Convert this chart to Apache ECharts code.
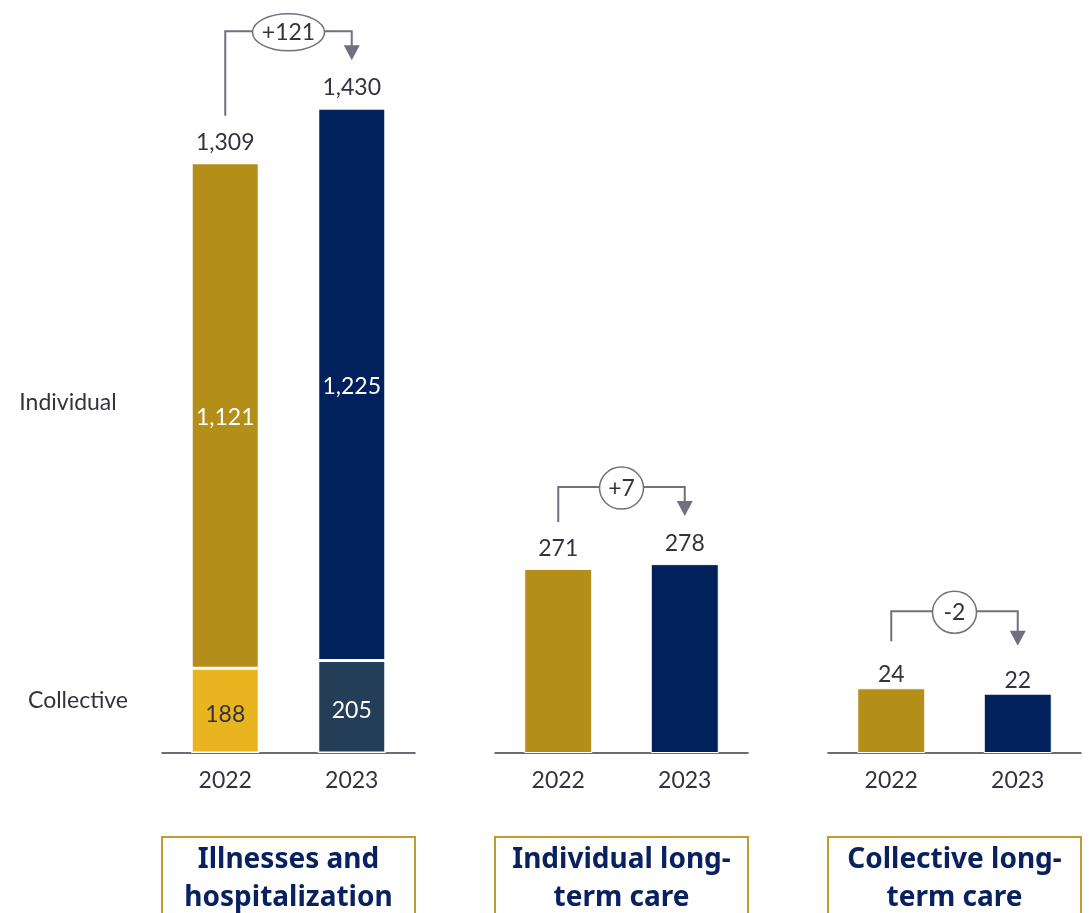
<!DOCTYPE html>
<html>
<head>
<meta charset="utf-8">
<script src="https://cdn.jsdelivr.net/npm/echarts@6/dist/echarts.min.js"></script>
<style>
  html, body { margin: 0; padding: 0; background: #fff; }
  #chart { width: 1089px; height: 913px; }
</style>
</head>
<body>
<div id="chart"></div>
<script>
// Claims by line of business, 2022 vs 2023
const categories = ['2022', '2023'];
const collectiveIllness = [188, 205];
const individualIllness = [1121, 1225];
const individualLongTerm = [271, 278];
const collectiveLongTerm = [24, 22];
const panelTitles = ['Illnesses and\nhospitalization', 'Individual long-\nterm care', 'Collective long-\nterm care'];
const rowLabels = ['Individual', 'Collective'];

const FONT = 'Lato, "Noto Sans", sans-serif';
const TITLE_FONT = '"Noto Sans", Lato, sans-serif';
const GOLD = '#B38F19';
const NAVY = '#00215C';
const YELLOW = '#E8B520';
const SLATE = '#233E56';
const GREY = '#70707E';
const TEXT = '#333340';

const illnessTotals = categories.map((c, i) => collectiveIllness[i] + individualIllness[i]);
const fmt = v => v.toLocaleString('en-US');
const signed = v => (v > 0 ? '+' : '') + fmt(v);

const gridLefts = [162, 495, 828];
const gridWidth = 253;
const yMax = [1537, 1020, 257];

const chart = echarts.init(document.getElementById('chart'));

const baseLabel = { fontFamily: FONT, fontSize: 23, color: TEXT };

const option = {
  animation: false,
  textStyle: { fontFamily: FONT },
  grid: gridLefts.map(l => ({ left: l, width: gridWidth, top: 60, bottom: 160 })),
  xAxis: gridLefts.map((l, i) => ({
    type: 'category',
    gridIndex: i,
    data: categories,
    axisLine: { lineStyle: { color: '#3c3c48', width: 1.5 } },
    axisTick: { show: false },
    axisLabel: { fontFamily: FONT, fontSize: 23, color: TEXT, margin: 16 }
  })),
  yAxis: gridLefts.map((l, i) => ({
    type: 'value',
    gridIndex: i,
    min: 0,
    max: yMax[i],
    show: false,
    splitLine: { show: false }
  })),
  series: [
    {
      name: 'Collective',
      type: 'bar',
      xAxisIndex: 0, yAxisIndex: 0,
      stack: 'illness',
      barWidth: 68,
      itemStyle: { borderColor: '#fff', borderWidth: 1.5 },
      label: Object.assign({ show: true, position: 'inside', offset: [0, 4], formatter: p => fmt(p.value) }, baseLabel),
      data: collectiveIllness.map((v, i) => ({
        value: v,
        itemStyle: { color: i ? SLATE : YELLOW },
        label: { color: i ? '#fff' : TEXT }
      }))
    },
    {
      name: 'Individual',
      type: 'bar',
      xAxisIndex: 0, yAxisIndex: 0,
      stack: 'illness',
      barWidth: 68,
      itemStyle: { borderColor: '#fff', borderWidth: 1.5 },
      label: Object.assign({ show: true, position: 'inside', offset: [0, 2], formatter: p => fmt(p.value) }, baseLabel, { color: '#fff' }),
      data: individualIllness.map((v, i) => ({ value: v, itemStyle: { color: i ? NAVY : GOLD } }))
    },
    {
      name: 'Total',
      type: 'bar',
      xAxisIndex: 0, yAxisIndex: 0,
      stack: 'illness',
      barWidth: 68,
      itemStyle: { color: 'rgba(0,0,0,0)', borderWidth: 0 },
      label: Object.assign({ show: true, position: 'top', distance: 9, formatter: p => fmt(illnessTotals[p.dataIndex]) }, baseLabel),
      data: categories.map(() => 0)
    },
    {
      name: 'Individual long-term care',
      type: 'bar',
      xAxisIndex: 1, yAxisIndex: 1,
      barWidth: 68,
      itemStyle: { borderColor: '#fff', borderWidth: 1 },
      label: Object.assign({ show: true, position: 'top', distance: 9, formatter: p => fmt(p.value) }, baseLabel),
      data: individualLongTerm.map((v, i) => ({ value: v, itemStyle: { color: i ? NAVY : GOLD } }))
    },
    {
      name: 'Collective long-term care',
      type: 'bar',
      xAxisIndex: 2, yAxisIndex: 2,
      barWidth: 68,
      itemStyle: { borderColor: '#fff', borderWidth: 1 },
      label: Object.assign({ show: true, position: 'top', distance: 2, formatter: p => fmt(p.value) }, baseLabel),
      data: collectiveLongTerm.map((v, i) => ({ value: v, itemStyle: { color: i ? NAVY : GOLD } }))
    }
  ]
};

chart.setOption(option);

// Change brackets, row labels and panel titles
const panelTotals = [illnessTotals, individualLongTerm, collectiveLongTerm];
const graphics = [];

panelTotals.forEach((tot, g) => {
  const a = chart.convertToPixel({ gridIndex: g }, [0, tot[0]]);
  const b = chart.convertToPixel({ gridIndex: g }, [1, tot[1]]);
  const start = a[1] - 47;
  const tip = b[1] - 48;
  const level = Math.min(a[1], b[1]) - 77;
  const text = signed(tot[1] - tot[0]);
  const rx = Math.max(21, text.length * 7 + 8);
  const ry = text.length > 2 ? 18.5 : 21;
  const cx = (a[0] + b[0]) / 2;
  graphics.push({
    type: 'polyline',
    shape: { points: [[a[0], start], [a[0], level], [b[0], level], [b[0], tip - 14]] },
    style: { stroke: GREY, lineWidth: 2, fill: null }
  });
  graphics.push({
    type: 'polygon',
    shape: { points: [[b[0] - 8, tip - 15], [b[0] + 8, tip - 15], [b[0], tip]] },
    style: { fill: GREY }
  });
  graphics.push({
    type: 'ellipse',
    shape: { cx: cx, cy: level + 1, rx: rx, ry: ry },
    style: { fill: '#fff', stroke: GREY, lineWidth: 1.5 }
  });
  graphics.push({
    type: 'text',
    x: cx, y: level + 1,
    style: { text: text, font: '23px ' + FONT, fill: TEXT, textAlign: 'center', textVerticalAlign: 'middle' }
  });
  // panel title box
  graphics.push({
    type: 'rect',
    shape: { x: gridLefts[g], y: 837, width: gridWidth, height: 120 },
    style: { fill: null, stroke: '#BF9B30', lineWidth: 2 }
  });
  graphics.push({
    type: 'text',
    x: gridLefts[g] + gridWidth / 2, y: 841,
    style: {
      text: panelTitles[g], font: 'bold 28px ' + TITLE_FONT, fill: '#0A2160',
      textAlign: 'center', textVerticalAlign: 'top', lineHeight: 38
    }
  });
});

graphics.push({
  type: 'text', x: 68, y: 403,
  style: { text: rowLabels[0], font: '23px ' + FONT, fill: TEXT, textAlign: 'center', textVerticalAlign: 'middle' }
});
graphics.push({
  type: 'text', x: 78, y: 701,
  style: { text: rowLabels[1], font: '23px ' + FONT, fill: TEXT, textAlign: 'center', textVerticalAlign: 'middle' }
});

chart.setOption({ graphic: graphics });
</script>
</body>
</html>
